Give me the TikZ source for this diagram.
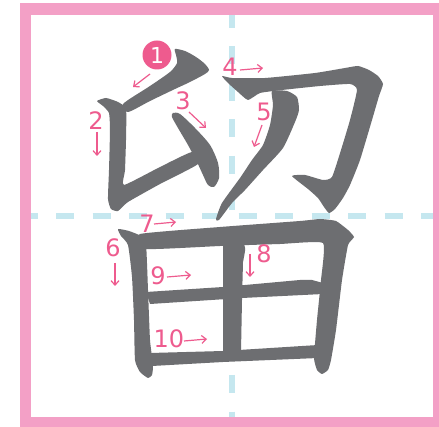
\documentclass[tikz,border=0pt]{standalone}
\usepackage{fontspec}
\usepackage{tikz}
\usetikzlibrary{arrows.meta}
\newfontfamily\numfont{DejaVu Sans}
\definecolor{FramePink}{HTML}{F3A0C6}
\definecolor{MarkPink}{HTML}{EE5B8E}
\definecolor{GuideBlue}{HTML}{C5E7EF}
\definecolor{InkGrey}{HTML}{6D6E71}
\tikzset{
  % Stroke of the character
  inkstroke/.style={
    fill=InkGrey, draw=none
  },
  % Dashed centre guide
  guide/.style={
    draw=GuideBlue, line width=6.5pt,
    dash pattern=on 18pt off 18.5pt
  },
  % Stroke number
  strokenum/.style={
    text=MarkPink, inner sep=0pt,
    font=\numfont\fontsize{24}{24}\selectfont
  },
  % Direction arrow
  dirarrow/.style={
    draw=MarkPink, line width=1.2pt,
    -{Straight Barb[length=4.5pt,width=8pt]}
  }
}

\begin{document}
\begin{tikzpicture}[x=1pt, y=-1pt]

\useasboundingbox (0,0) rectangle (439,427);

% Frame
\fill[FramePink] (20,3) rectangle (439,427);
\fill[white] (31,15) rectangle (433,417);

% Guides
\draw[guide, dash phase=11.5pt] (31,216) -- (433,216);
\draw[guide, dash phase=5pt] (232,15) -- (232,417);

% Stroke 1
\fill[inkstroke] plot[smooth cycle, tension=0.45] coordinates {
  (175,49) (185,51) (196,57) (205,64) (209,70) (205,74) (190,82)
  (175,89) (150,101) (128,112) (123,104) (150,86) (170,72)
  (177,63) (176,55)};

% Stroke 2
\fill[inkstroke] plot[smooth cycle, tension=0.3] coordinates {
  (97,101) (106,98) (118,102) (126,109) (126,140) (125,170)
  (124,185) (160,167) (192,152) (198,164) (160,184) (128,202)
  (118,211) (111,209) (108,199) (109,170) (110,130) (109,113)
  (103,106)};

% Stroke 3
\fill[inkstroke] plot[smooth cycle, tension=0.45] coordinates {
  (173,113) (180,114) (195,128) (210,145) (218,163) (219,178)
  (214,187) (208,185) (203,175) (197,162) (188,145) (178,128)
  (172,117)};

% Stroke 4
\fill[inkstroke] plot[smooth cycle, tension=0.3] coordinates {
  (222,76) (232,78) (265,78) (315,73) (345,68) (358,66) (369,70)
  (378,76) (383,84) (379,96) (372,120) (360,160) (350,185)
  (343,198) (335,209) (329,213) (324,207) (318,198) (308,189)
  (292,176) (305,175) (323,180) (332,177) (341,150) (350,120)
  (357,90) (350,84) (320,86) (282,90) (260,93) (248,100)
  (238,92) (228,83)};

% Stroke 5
\fill[inkstroke] plot[smooth cycle, tension=0.35] coordinates {
  (272,91) (287,91) (297,97) (299,110) (295,122) (283,148)
  (263,170) (245,190) (232,203) (219,220) (216,219) (222,203)
  (240,178) (252,160) (263,145) (270,125) (273,105)};

% Stroke 6
\fill[inkstroke] plot[smooth cycle, tension=0.3] coordinates {
  (118,229) (129,231) (141,236) (146,244) (148,290) (150,340)
  (153,365) (152,375) (148,378) (140,372) (135,360) (134,320)
  (132,277) (128,245) (121,236)};

% Stroke 7
\fill[inkstroke] plot[smooth cycle, tension=0.25] coordinates {
  (140,234) (220,227) (300,221) (320,219) (336,221) (348,230)
  (354,237) (348,245) (342,280) (336,330) (331,360) (328,370)
  (322,374) (317,370) (314,358) (317,320) (321,280) (323,243)
  (280,244) (220,246) (146,249)};

% Stroke 8
\fill[inkstroke] (223,242) -- (242,241) .. controls (246,247) .. (243,262)
  -- (242,300) -- (241,352) -- (223,353) -- cycle;

% Stroke 9
\fill[inkstroke] (146,292) -- (223,287) -- (300,280) -- (312,280)
  -- (323,283) -- (323,294) -- (242,298) -- (150,304) -- cycle;

% Stroke 10
\fill[inkstroke] (150,353) -- (223,351) -- (318,345) -- (318,358)
  -- (223,362) -- (152,366) -- cycle;

% Stroke order numbers
\node[circle, fill=MarkPink, minimum size=29pt, inner sep=0pt,
      text=white, font=\numfont\fontsize{22}{22}\selectfont] (n1) at (157,55) {1};
\node[strokenum] (n2) at (96,121) {2};
\node[strokenum] (n3) at (183,101) {3};
\node[strokenum] (n4) at (230,67) {4};
\node[strokenum] (n5) at (264,112) {5};
\node[strokenum] (n6) at (113,248) {6};
\node[strokenum] (n7) at (147,224) {7};
\node[strokenum] (n8) at (264,254) {8};
\node[strokenum] (n9) at (158,276) {9};
\node[strokenum] (n10) at (169,339) {10};

% Direction arrows
\draw[dirarrow] (150,74) -- (133,87);
\draw[dirarrow] (97,132) -- (97,156);
\draw[dirarrow] (189,112) -- (206,128);
\draw[dirarrow] (240,70) -- (263,68);
\draw[dirarrow] (262,125) -- (254,147);
\draw[dirarrow] (115,263) -- (115,286);
\draw[dirarrow] (154,224) -- (176,222);
\draw[dirarrow] (250,254) -- (250,277);
\draw[dirarrow] (167,277) -- (191,275);
\draw[dirarrow] (184,341) -- (207,339);

\end{tikzpicture}
\end{document}
